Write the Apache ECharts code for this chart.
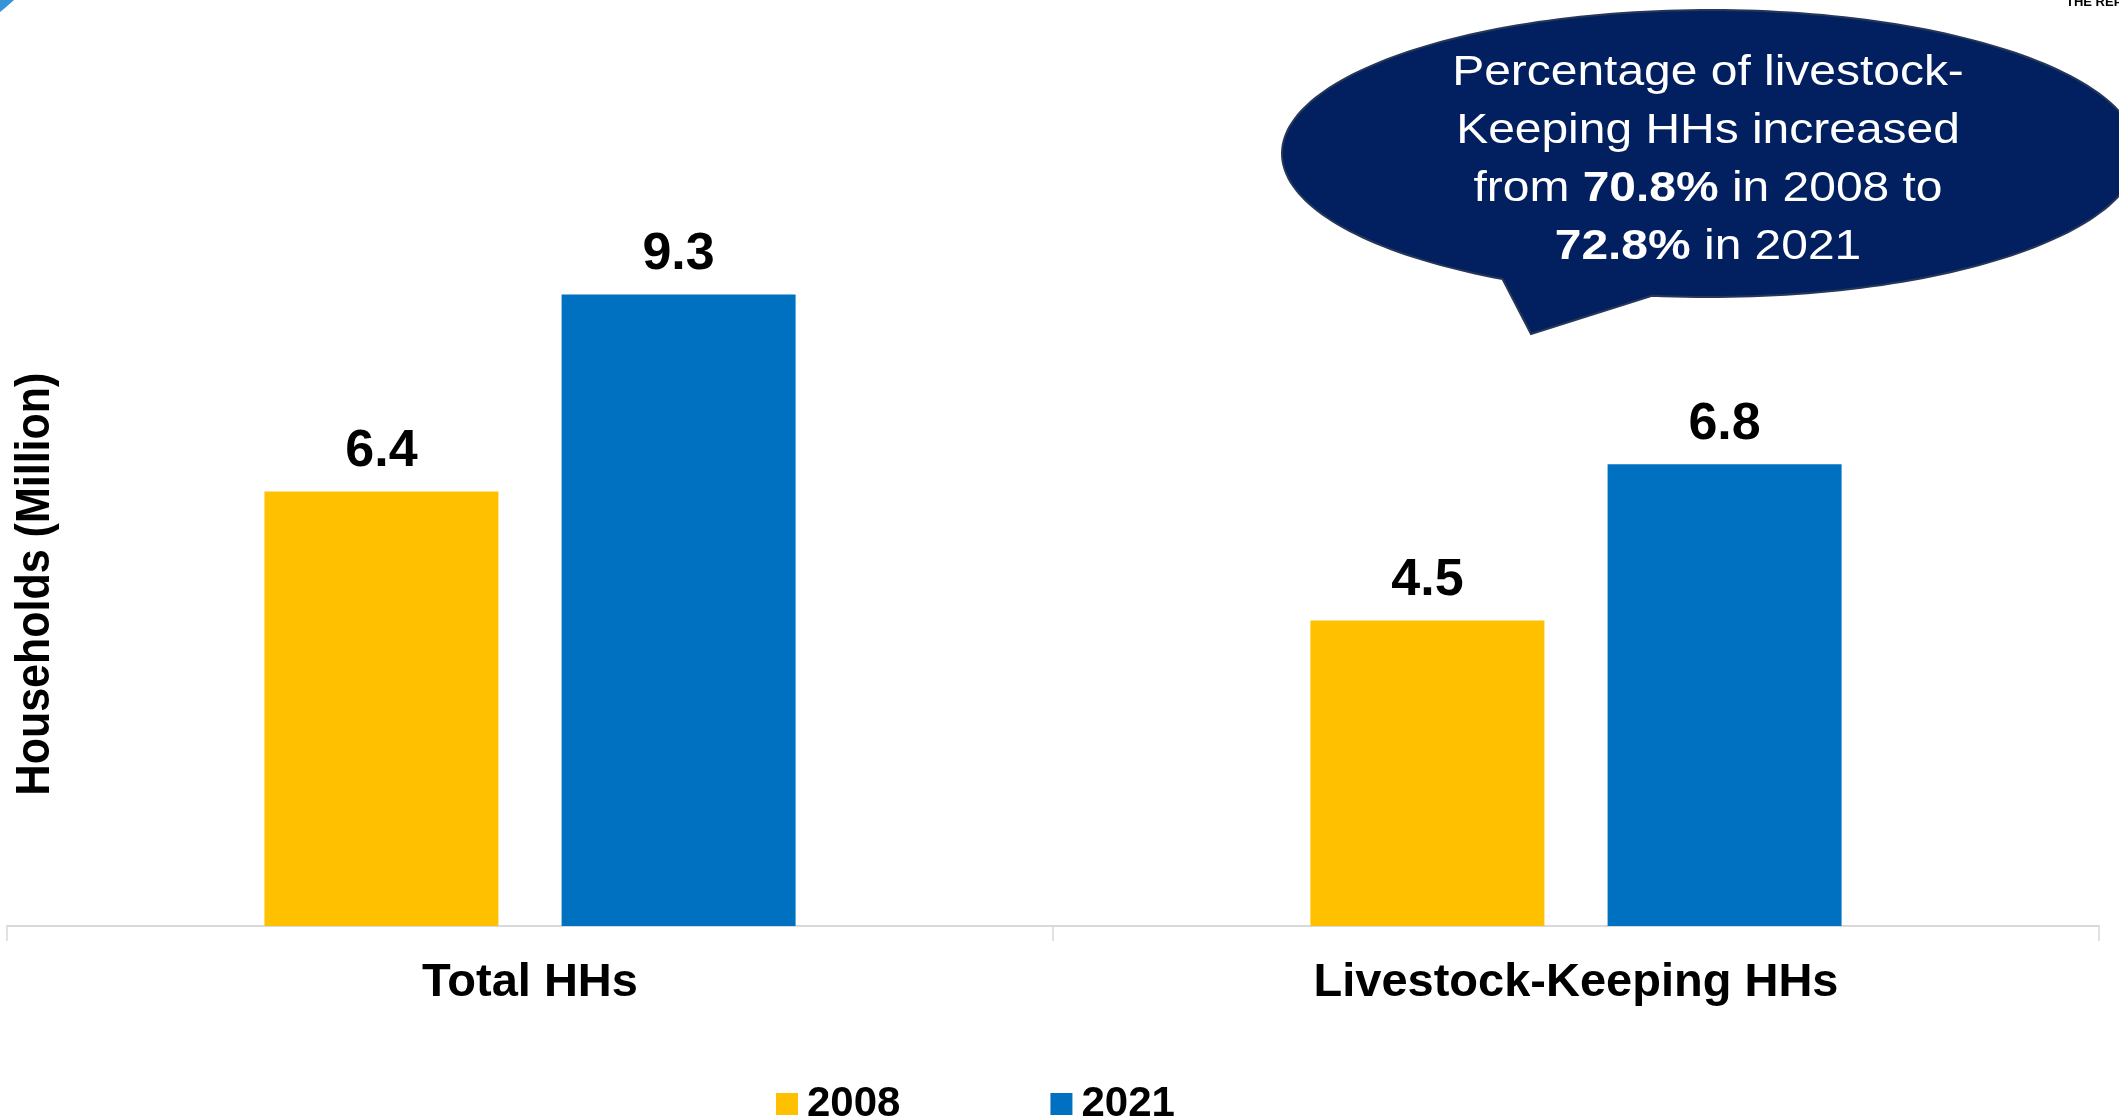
<!DOCTYPE html>
<html>
<head>
<meta charset="utf-8">
<script src="https://cdn.jsdelivr.net/npm/echarts@6/dist/echarts.min.js"></script>
<style>
html,body{margin:0;padding:0;background:#fff;}
#chart{width:2119px;height:1117px;}
</style>
</head>
<body>
<div id="chart"></div>
<script>
var categories = ['Total HHs', 'Livestock-Keeping HHs'];
var seriesNames = ['2008', '2021'];
var values2008 = [6.4, 4.5];
var values2021 = [9.3, 6.8];
var yAxisTitle = 'Households (Million)';
var calloutText = 'Percentage of livestock-\nKeeping HHs increased\nfrom {b|70.8%} in 2008 to\n{b|72.8%} in 2021';

var FONT = '"Liberation Sans", Arial, Helvetica, sans-serif';
var chart = echarts.init(document.getElementById('chart'));

// speech-bubble outline (decoration geometry)
function bubblePoints() {
  var cx = 1710, cy = 153.5, rx = 428, ry = 143.5;
  var pts = [];
  var a0 = 97.8, a1 = 119 - 360;
  for (var a = a0; a >= a1; a -= 1.5) {
    var r = a * Math.PI / 180;
    pts.push([cx + rx * Math.cos(r), cy + ry * Math.sin(r)]);
  }
  var rEnd = a1 * Math.PI / 180;
  pts.push([cx + rx * Math.cos(rEnd), cy + ry * Math.sin(rEnd)]);
  pts.push([1531, 334]);
  return pts;
}

function barSeries(name, data, color) {
  return {
    name: name,
    type: 'bar',
    data: data,
    barWidth: 234,
    barGap: '27%',
    itemStyle: { color: color },
    label: {
      show: true,
      position: 'top',
      distance: 14,
      color: '#000',
      fontFamily: FONT,
      fontWeight: 'bold',
      fontSize: 52,
      formatter: function (p) { return p.value.toFixed(1); }
    }
  };
}

chart.setOption({
  backgroundColor: '#ffffff',
  animation: false,
  grid: { left: 7, right: 20, top: 247, bottom: 191, containLabel: false },
  legend: {
    data: seriesNames,
    left: 776,
    top: 1083,
    padding: 0,
    itemGap: 150,
    itemWidth: 22,
    itemHeight: 22,
    icon: 'rect',
    textStyle: { color: '#000', fontFamily: FONT, fontWeight: 'bold', fontSize: 42, padding: [0, 0, 0, 4] }
  },
  xAxis: {
    type: 'category',
    data: categories,
    axisLine: { show: true, lineStyle: { color: '#d9d9d9', width: 2 } },
    axisTick: { show: true, length: 15, lineStyle: { color: '#d9d9d9', width: 1.5 } },
    axisLabel: { margin: 34, color: '#000', fontFamily: FONT, fontWeight: 'bold', fontSize: 47 }
  },
  yAxis: {
    type: 'value',
    min: 0,
    max: 10,
    show: false
  },
  series: [
    barSeries(seriesNames[0], values2008, '#FFC000'),
    barSeries(seriesNames[1], values2021, '#0070C0')
  ],
  graphic: [
    {
      type: 'polygon',
      shape: { points: [[0, 0], [14, 0], [5, 8], [0, 12]] },
      style: { fill: '#3593d6' }
    },
    {
      type: 'text',
      x: 2066, y: -4,
      style: { text: 'THE REPUBLIC', fill: '#000', font: 'bold 13px ' + FONT, verticalAlign: 'top' }
    },
    {
      type: 'polygon',
      shape: { points: bubblePoints() },
      style: { fill: '#022060', stroke: '#26375a', lineWidth: 2 }
    },
    {
      type: 'text',
      x: 1708, y: 160,
      scaleX: 1.115,
      style: {
        text: calloutText,
        fill: '#ffffff',
        font: '43px ' + FONT,
        lineHeight: 58,
        align: 'center',
        verticalAlign: 'middle',
        rich: {
          b: { fill: '#ffffff', fontWeight: 'bold', fontSize: 43, fontFamily: FONT, lineHeight: 58 }
        }
      }
    },
    {
      type: 'text',
      x: 36, y: 584,
      rotation: Math.PI / 2,
      scaleY: 1.1,
      style: {
        text: yAxisTitle,
        fill: '#000',
        font: 'bold 43px ' + FONT,
        align: 'center',
        verticalAlign: 'middle'
      }
    }
  ]
});
</script>
</body>
</html>
